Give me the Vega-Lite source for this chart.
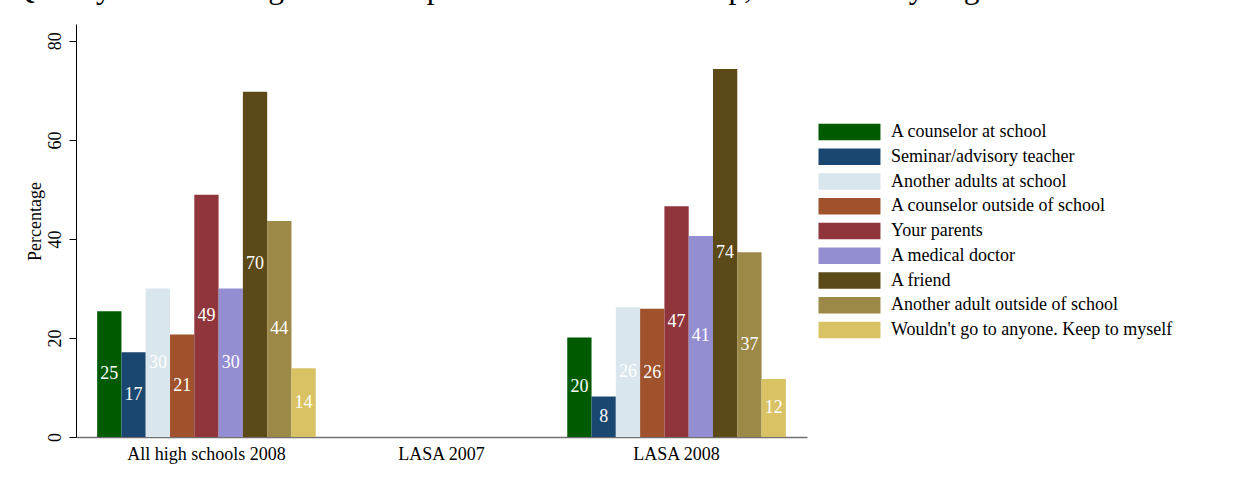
{
  "$schema": "https://vega.github.io/schema/vega-lite/v6.json",
  "width": 731,
  "height": 413,
  "autosize": {"type": "none"},
  "padding": {"left": 76, "top": 24, "right": 431, "bottom": 40},
  "background": "white",
  "config": {
    "view": {"stroke": null},
    "font": "Liberation Serif",
    "axis": {"labelFont": "Liberation Serif", "titleFont": "Liberation Serif", "labelColor": "black", "titleColor": "black", "grid": false},
    "legend": {"labelFont": "Liberation Serif"}
  },
  "title": {
    "text": "Q6: If you had a drug or alcohol problem and needed help, who would you go to?",
    "font": "Liberation Serif",
    "fontSize": 31.5,
    "fontWeight": "normal",
    "color": "black",
    "anchor": "start",
    "frame": "bounds",
    "baseline": "alphabetic",
    "offset": 0,
    "dy": 5,
    "dx": -14
  },
  "data": {
    "values": [
      {"group": "All high schools 2008", "source": "A counselor at school", "pct": 25.4},
      {"group": "All high schools 2008", "source": "Seminar/advisory teacher", "pct": 17.1},
      {"group": "All high schools 2008", "source": "Another adults at school", "pct": 30.0},
      {"group": "All high schools 2008", "source": "A counselor outside of school", "pct": 20.7},
      {"group": "All high schools 2008", "source": "Your parents", "pct": 48.9},
      {"group": "All high schools 2008", "source": "A medical doctor", "pct": 30.0},
      {"group": "All high schools 2008", "source": "A friend", "pct": 69.7},
      {"group": "All high schools 2008", "source": "Another adult outside of school", "pct": 43.6},
      {"group": "All high schools 2008", "source": "Wouldn't go to anyone. Keep to myself", "pct": 13.9},
      {"group": "LASA 2008", "source": "A counselor at school", "pct": 20.1},
      {"group": "LASA 2008", "source": "Seminar/advisory teacher", "pct": 8.2},
      {"group": "LASA 2008", "source": "Another adults at school", "pct": 26.2},
      {"group": "LASA 2008", "source": "A counselor outside of school", "pct": 25.9},
      {"group": "LASA 2008", "source": "Your parents", "pct": 46.6},
      {"group": "LASA 2008", "source": "A medical doctor", "pct": 40.6},
      {"group": "LASA 2008", "source": "A friend", "pct": 74.3},
      {"group": "LASA 2008", "source": "Another adult outside of school", "pct": 37.3},
      {"group": "LASA 2008", "source": "Wouldn't go to anyone. Keep to myself", "pct": 11.7}
    ]
  },
  "encoding": {
    "x": {
      "field": "group",
      "type": "nominal",
      "scale": {"domain": ["All high schools 2008", "LASA 2007", "LASA 2008"], "paddingInner": 0.07, "paddingOuter": 0.09},
      "axis": {"title": null, "labelAngle": 0, "labelFontSize": 18, "labelPadding": 8, "ticks": false, "domainColor": "#707070", "domainWidth": 1.5}
    },
    "xOffset": {
      "field": "source",
      "type": "nominal",
      "scale": {"domain": ["A counselor at school", "Seminar/advisory teacher", "Another adults at school", "A counselor outside of school", "Your parents", "A medical doctor", "A friend", "Another adult outside of school", "Wouldn't go to anyone. Keep to myself"], "paddingInner": 0, "paddingOuter": 0}
    }
  },
  "layer": [
    {
      "mark": {"type": "bar"},
      "encoding": {
        "y": {
          "field": "pct",
          "type": "quantitative",
          "scale": {"domain": [0, 83.4], "nice": false},
          "axis": {
            "title": "Percentage",
            "titleFontSize": 18,
            "titleFontWeight": "normal",
            "titleX": -41,
            "titleY": 197,
            "titleAlign": "center",
            "titleBaseline": "middle",
            "titleAngle": -90,
            "values": [0, 20, 40, 60, 80],
            "labelAngle": -90,
            "labelFontSize": 18,
            "labelPadding": 5,
            "tickSize": 7,
            "tickColor": "black",
            "domainColor": "black"
          }
        },
        "color": {
          "field": "source",
          "type": "nominal",
          "scale": {
            "domain": ["A counselor at school", "Seminar/advisory teacher", "Another adults at school", "A counselor outside of school", "Your parents", "A medical doctor", "A friend", "Another adult outside of school", "Wouldn't go to anyone. Keep to myself"],
            "range": ["#005b00", "#1a476f", "#d9e6eb", "#a0522d", "#90353b", "#938dd2", "#5c4918", "#9c8847", "#d9c263"]
          },
          "legend": {
            "title": null,
            "orient": "none",
            "legendX": 742,
            "legendY": 99,
            "labelFontSize": 18,
            "labelColor": "black",
            "labelLimit": 500,
            "symbolType": "M-1,-0.98H6.29V0.98H-1Z",
            "symbolSize": 289,
            "symbolStrokeWidth": 0,
            "symbolOpacity": 1,
            "labelOffset": 55,
            "rowPadding": 6.75
          }
        }
      }
    },
    {
      "mark": {"type": "text", "color": "white", "fontSize": 18, "baseline": "middle", "align": "center", "font": "Liberation Serif"},
      "encoding": {
        "y": {
          "field": "pct",
          "type": "quantitative",
          "scale": {"domain": [0, 166.8], "nice": false},
          "axis": null
        },
        "text": {"field": "pct", "type": "quantitative", "format": ".0f"}
      }
    }
  ],
  "resolve": {"scale": {"y": "independent"}}
}
